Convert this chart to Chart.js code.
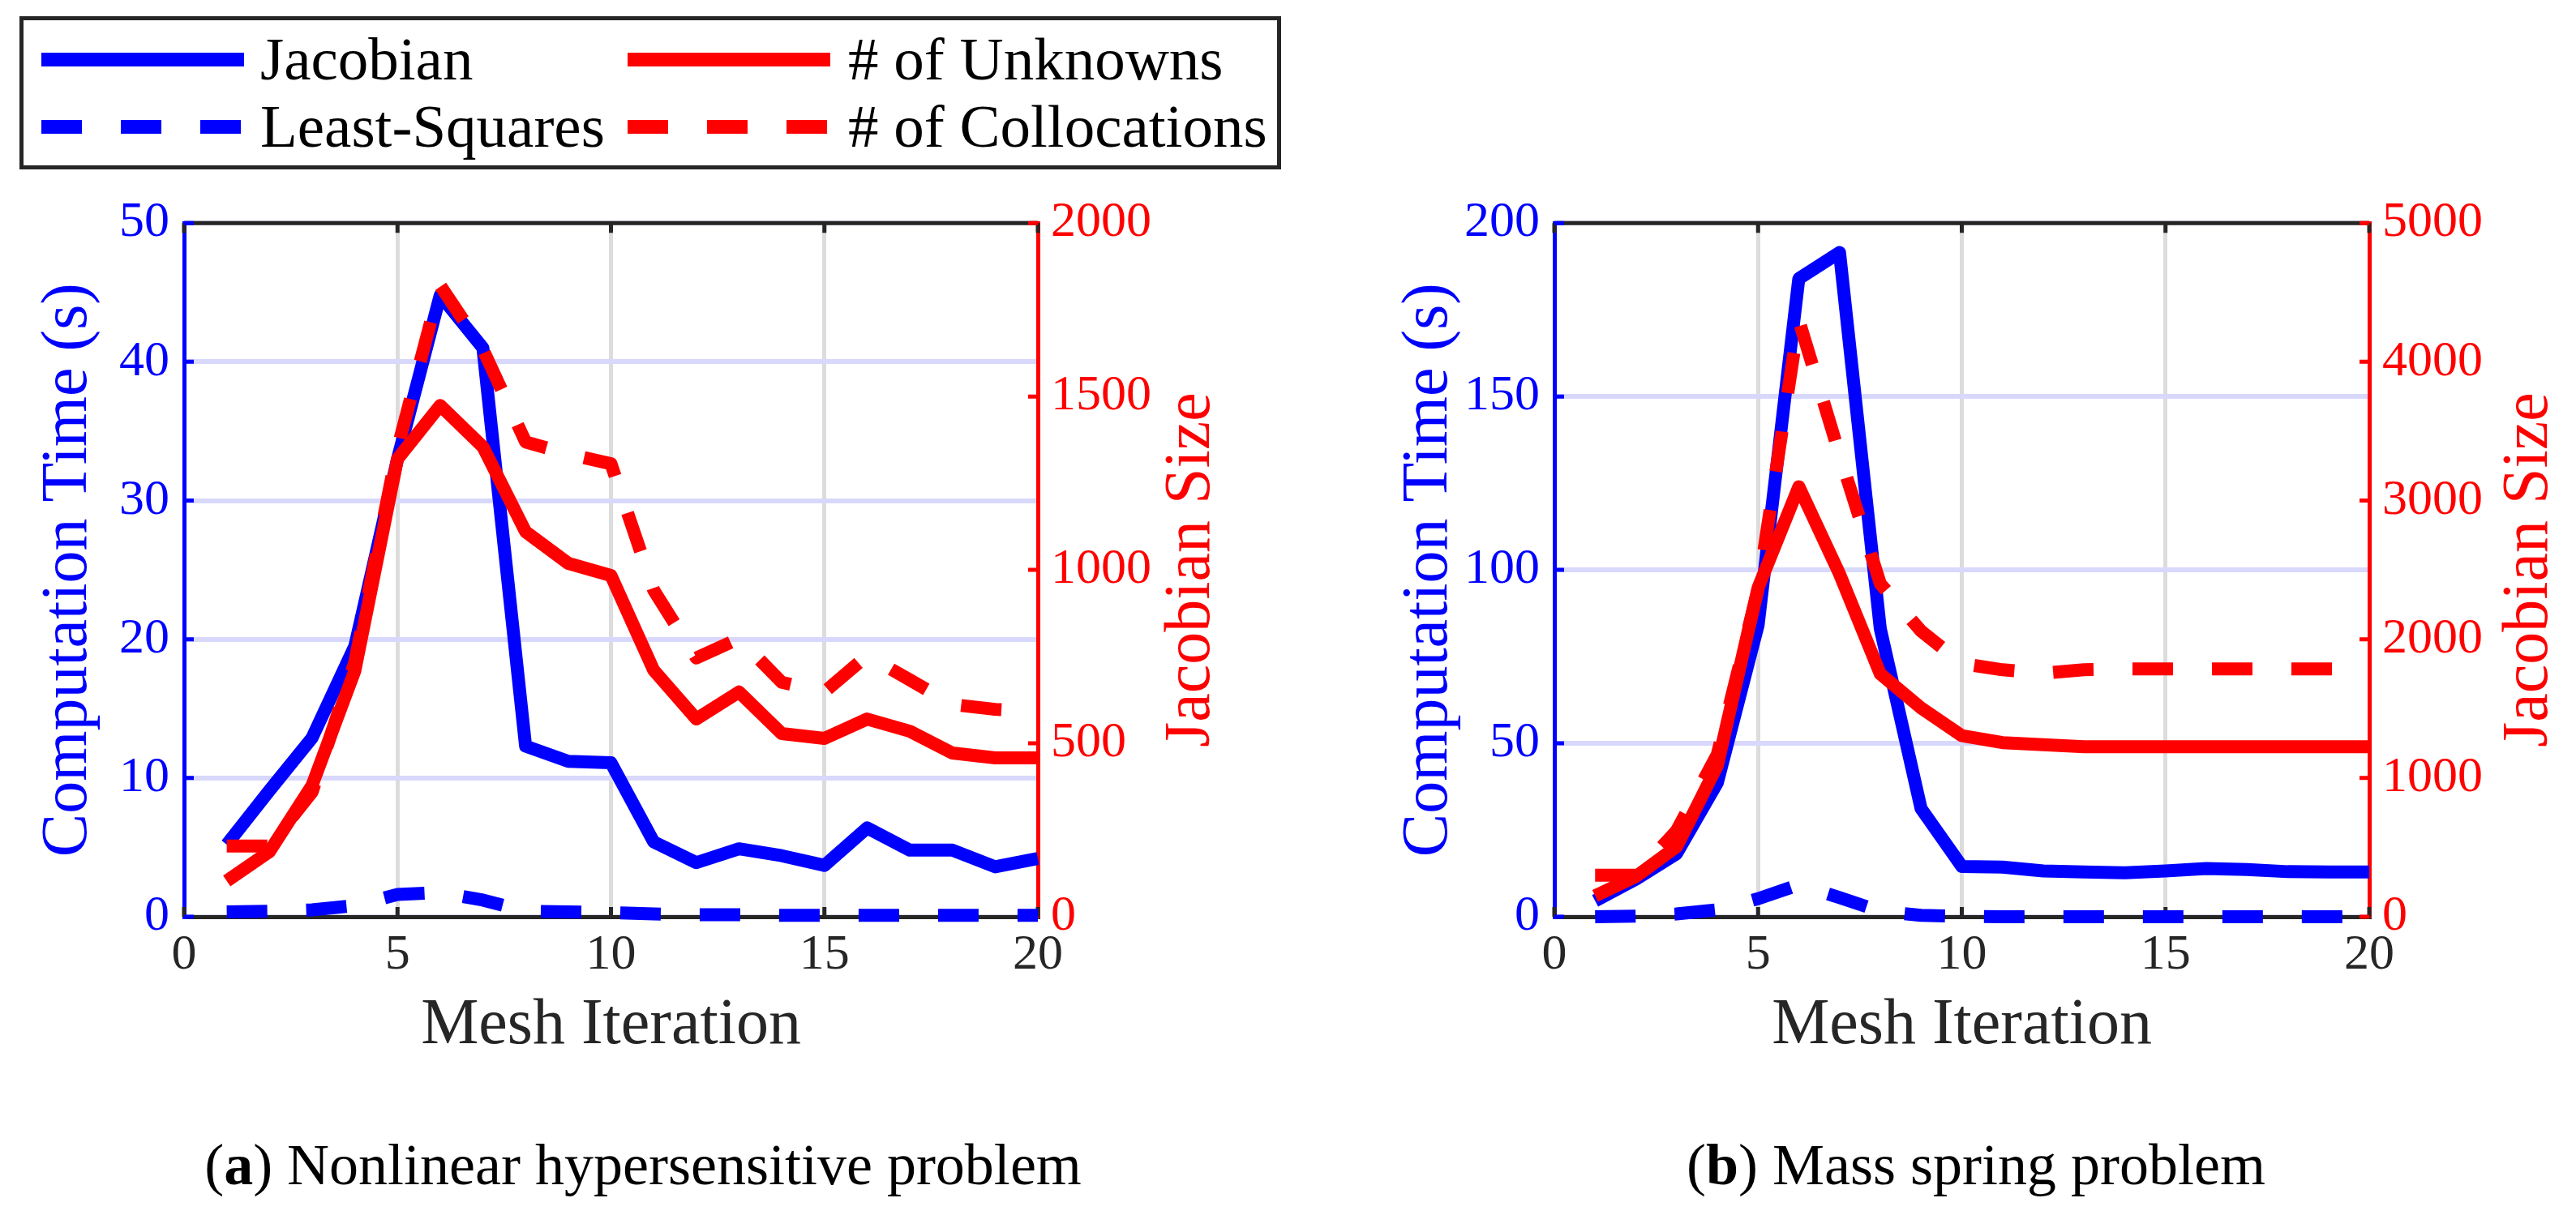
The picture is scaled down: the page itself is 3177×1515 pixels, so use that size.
<!DOCTYPE html>
<html>
<head>
<meta charset="utf-8">
<script src="https://cdn.jsdelivr.net/npm/chart.js@4.4.1/dist/chart.umd.min.js"></script>
<style>
  html, body { margin: 0; padding: 0; background: #fff; }
  body { width: 3177px; height: 1515px; position: relative; overflow: hidden; font-family: "Liberation Serif", serif; }
  canvas { position: absolute; }
  #chartA { left: 0; top: 220px; }
  #chartB { left: 1620px; top: 220px; }
  #legend { position: absolute; left: 24px; top: 20px; width: 1546px; height: 179px; border: 5px solid #262626; background: #fff; }
  .swatch { position: absolute; width: 250px; height: 17px; }
  .lbl { position: absolute; font-size: 75px; line-height: 100px; height: 100px; white-space: nowrap; color: #000; }
  .caption { position: absolute; width: 1600px; font-size: 72px; line-height: 100px; text-align: center; white-space: nowrap; color: #000; }
</style>
</head>
<body>
<div id="legend"></div>
<canvas id="chartA" width="1600" height="1100" style="width:1600px;height:1100px"></canvas>
<canvas id="chartB" width="1557" height="1100" style="width:1557px;height:1100px"></canvas>
<div class="caption" style="left:-7px;top:1387px">(<b>a</b>) Nonlinear hypersensitive problem</div>
<div class="caption" style="left:1637px;top:1387px">(<b>b</b>) Mass spring problem</div>

<script>
// mesh iterations and series names
const iterations = [1, 2, 3, 4, 5, 6, 7, 8, 9, 10, 11, 12, 13, 14, 15, 16, 17, 18, 19, 20];
const seriesNames = ["Jacobian", "Least-Squares", "# of Unknowns", "# of Collocations"];

// (a) nonlinear hypersensitive problem
const jacobianTimeA = [5.2, 9.1, 12.9, 19.5, 33, 44.8, 41.0, 12.3, 11.2, 11.1, 5.4, 3.9, 4.9, 4.4, 3.7, 6.4, 4.8, 4.8, 3.6, 4.2];
const lsqTimeA = [0.35, 0.4, 0.5, 0.8, 1.6, 1.75, 1.2, 0.4, 0.35, 0.3, 0.2, 0.15, 0.15, 0.1, 0.1, 0.1, 0.1, 0.1, 0.1, 0.1];
const unknownsA = [103, 188, 379, 709, 1320, 1474, 1355, 1110, 1019, 984, 711, 570, 648, 528, 514, 570, 535, 472, 458, 458];
const collocationsA = [204, 204, 360, 735, 1350, 1820, 1636, 1369, 1334, 1306, 942, 746, 802, 676, 648, 753, 683, 612, 598, 591];

// (b) mass spring problem
const jacobianTimeB = [4.6, 10.8, 18.2, 38.6, 84, 184, 191.5, 83, 31.2, 14.5, 14.3, 13.2, 12.9, 12.7, 13.2, 13.9, 13.6, 13.0, 12.9, 12.9];
const lsqTimeB = [0, 0.2, 0.8, 2.0, 5.2, 9.2, 5.5, 1.6, 0.4, 0.1, 0, 0, 0, 0, 0, 0, 0, 0, 0, 0];
const unknownsB = [150, 290, 505, 1090, 2370, 3100, 2470, 1750, 1505, 1305, 1255, 1240, 1226, 1226, 1226, 1226, 1226, 1226, 1226, 1226];
const collocationsB = [300, 300, 620, 1170, 2360, 4300, 3330, 2400, 2060, 1825, 1780, 1755, 1780, 1787, 1787, 1787, 1787, 1787, 1787, 1787];

// tick labels
const xTicks = [0, 5, 10, 15, 20];
const timeTicksA = [0, 10, 20, 30, 40, 50];
const sizeTicksA = [0, 500, 1000, 1500, 2000];
const timeTicksB = [0, 50, 100, 150, 200];
const sizeTicksB = [0, 1000, 2000, 3000, 4000, 5000];

const BLUE = "#0000ff";
const RED = "#ff0000";
const AXIS = "#262626";
const FONT = "'Liberation Serif'";
const TICK_SIZE = 62;
const TITLE_SIZE = 80;
const LINE_W = 16;
const DASH = [50, 48];

// legend (html, built from the series names)
function buildLegend() {
  const box = document.getElementById("legend");
  const slots = [
    { color: BLUE, dashed: false, sx: 22, tx: 292, cy: 48 },
    { color: BLUE, dashed: true, sx: 22, tx: 292, cy: 131 },
    { color: RED, dashed: false, sx: 745, tx: 1017, cy: 48 },
    { color: RED, dashed: true, sx: 745, tx: 1017, cy: 131 },
  ];
  seriesNames.forEach((name, i) => {
    const s = slots[i];
    const sw = document.createElement("div");
    sw.className = "swatch";
    sw.style.left = s.sx + "px";
    sw.style.top = (s.cy - 8.5) + "px";
    sw.style.background = s.dashed
      ? "repeating-linear-gradient(to right, " + s.color + " 0 50px, transparent 50px 98px)"
      : s.color;
    box.appendChild(sw);
    const t = document.createElement("div");
    t.className = "lbl";
    t.style.left = s.tx + "px";
    t.style.top = (s.cy - 50) + "px";
    t.textContent = name;
    box.appendChild(t);
  });
}

function points(ys) {
  return iterations.map((x, i) => ({ x, y: ys[i] }));
}

function lineSet(label, ys, color, dashed, axis) {
  return {
    label,
    data: points(ys),
    yAxisID: axis,
    borderColor: color,
    backgroundColor: color,
    borderWidth: LINE_W,
    borderDash: dashed ? DASH : [],
    borderCapStyle: "butt",
    borderJoinStyle: "round",
    pointRadius: 0,
    tension: 0,
    fill: false,
    clip: false,
    order: axis === "y1" ? 0 : 1,
  };
}

function fixedTicks(values) {
  return (scale) => {
    scale.ticks = values.map((v) => ({ value: v }));
  };
}

const plainNumber = (v) => String(v);

// matlab style box: top border, inward tick marks, right axis title reading upwards
const matlabAxes = {
  id: "matlabAxes",
  beforeDatasetsDraw(chart) {
    const { ctx, chartArea: a, scales } = chart;
    const len = 12;
    ctx.save();
    ctx.lineWidth = 5;
    ctx.lineCap = "butt";
    ctx.strokeStyle = AXIS;
    ctx.beginPath();
    ctx.moveTo(a.left, a.top);
    ctx.lineTo(a.right, a.top);
    scales.x.ticks.forEach((t) => {
      const px = scales.x.getPixelForValue(t.value);
      ctx.moveTo(px, a.bottom);
      ctx.lineTo(px, a.bottom - len);
      ctx.moveTo(px, a.top);
      ctx.lineTo(px, a.top + len);
    });
    ctx.stroke();

    ctx.strokeStyle = BLUE;
    ctx.beginPath();
    scales.y.ticks.forEach((t) => {
      const py = scales.y.getPixelForValue(t.value);
      ctx.moveTo(a.left, py);
      ctx.lineTo(a.left + len, py);
    });
    ctx.stroke();

    ctx.strokeStyle = RED;
    ctx.beginPath();
    scales.y1.ticks.forEach((t) => {
      const py = scales.y1.getPixelForValue(t.value);
      ctx.moveTo(a.right, py);
      ctx.lineTo(a.right - len, py);
    });
    ctx.stroke();
    ctx.restore();
  },
  afterDraw(chart, args, opts) {
    const { ctx, chartArea: a } = chart;
    ctx.save();
    ctx.translate(opts.x, (a.top + a.bottom) / 2);
    ctx.rotate(-Math.PI / 2);
    ctx.textAlign = "center";
    ctx.textBaseline = "middle";
    ctx.fillStyle = RED;
    ctx.font = TITLE_SIZE + "px " + FONT;
    ctx.fillText(opts.text, 0, 0);
    ctx.restore();
  },
};

function buildPanel(canvasId, series, cfg) {
  const canvas = document.getElementById(canvasId);
  return new Chart(canvas.getContext("2d"), {
    type: "line",
    data: {
      datasets: [
        lineSet(seriesNames[0], series.jac, BLUE, false, "y"),
        lineSet(seriesNames[1], series.lsq, BLUE, true, "y"),
        lineSet(seriesNames[2], series.unk, RED, false, "y1"),
        lineSet(seriesNames[3], series.col, RED, true, "y1"),
      ],
    },
    plugins: [matlabAxes],
    options: {
      responsive: false,
      devicePixelRatio: 1,
      animation: false,
      events: [],
      layout: { padding: { top: 39, left: 0, right: 0, bottom: 0 } },
      plugins: {
        legend: { display: false },
        tooltip: { enabled: false },
        matlabAxes: { text: "Jacobian Size", x: cfg.rightTitleX },
      },
      scales: {
        x: {
          type: "linear",
          min: xTicks[0],
          max: xTicks[xTicks.length - 1],
          afterBuildTicks: fixedTicks(xTicks),
          afterFit: (s) => { s.height = 189; },
          grid: { color: "#dcdcdc", lineWidth: 5, drawTicks: false },
          border: { color: AXIS, width: 5 },
          ticks: { color: AXIS, font: { family: FONT, size: TICK_SIZE }, padding: 11, callback: plainNumber },
          title: {
            display: true,
            text: "Mesh Iteration",
            color: AXIS,
            font: { family: FONT, size: TITLE_SIZE },
            padding: { top: 0, bottom: 6 },
          },
        },
        y: {
          type: "linear",
          position: "left",
          min: series.timeTicks[0],
          max: series.timeTicks[series.timeTicks.length - 1],
          afterBuildTicks: fixedTicks(series.timeTicks),
          afterFit: (s) => { s.width = cfg.leftW; },
          grid: { color: "#d8d8fc", lineWidth: 6, drawTicks: false },
          border: { color: BLUE, width: 5 },
          ticks: { color: BLUE, font: { family: FONT, size: TICK_SIZE }, padding: 18, callback: plainNumber },
          title: {
            display: true,
            text: "Computation Time (s)",
            color: BLUE,
            font: { family: FONT, size: TITLE_SIZE },
            padding: { top: cfg.leftTitlePad, bottom: 0 },
          },
        },
        y1: {
          type: "linear",
          position: "right",
          min: series.sizeTicks[0],
          max: series.sizeTicks[series.sizeTicks.length - 1],
          afterBuildTicks: fixedTicks(series.sizeTicks),
          afterFit: (s) => { s.width = cfg.rightW; },
          grid: { drawOnChartArea: false, drawTicks: false },
          border: { color: RED, width: 5 },
          ticks: { color: RED, font: { family: FONT, size: TICK_SIZE }, padding: 16, callback: plainNumber },
        },
      },
    },
  });
}

function drawAll() {
  buildLegend();

  buildPanel("chartA", {
    jac: jacobianTimeA, lsq: lsqTimeA, unk: unknownsA, col: collocationsA,
    timeTicks: timeTicksA, sizeTicks: sizeTicksA,
  }, { leftW: 227, rightW: 320, leftTitlePad: 37, rightTitleX: 1470 });

  buildPanel("chartB", {
    jac: jacobianTimeB, lsq: lsqTimeB, unk: unknownsB, col: collocationsB,
    timeTicks: timeTicksB, sizeTicks: sizeTicksB,
  }, { leftW: 297, rightW: 255, leftTitlePad: 95, rightTitleX: 1500 });
}

if (document.fonts && document.fonts.load) {
  Promise.all([
    document.fonts.load("62px 'Liberation Serif'"),
    document.fonts.load("bold 62px 'Liberation Serif'"),
  ]).then(drawAll, drawAll);
} else {
  drawAll();
}
</script>
</body>
</html>
